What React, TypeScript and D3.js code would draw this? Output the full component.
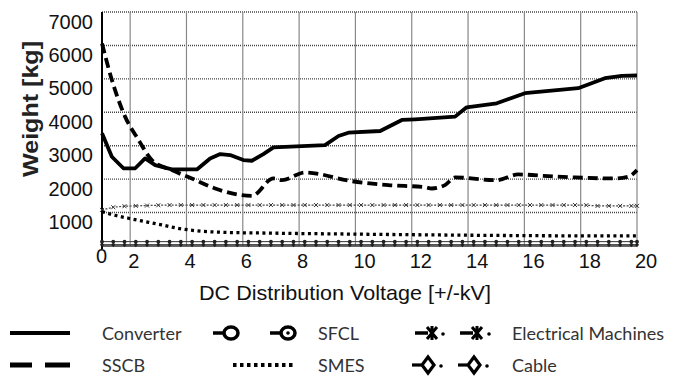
import * as d3 from "d3";

// x positions (kV) for the marker series
const volts = [
  1.0, 1.4, 1.8, 2.2, 2.6, 3.0, 3.4, 3.8, 4.2, 4.6, 5.0, 5.4, 5.8, 6.2, 6.6,
  7.0, 7.4, 7.8, 8.2, 8.6, 9.0, 9.4, 9.8, 10.2, 10.6, 11.0, 11.4, 11.8, 12.2,
  12.6, 13.0, 13.4, 13.8, 14.2, 14.6, 15.0, 15.4, 15.8, 16.2, 16.6, 17.0, 17.4,
  17.8, 18.2, 18.6, 19.0, 19.4, 19.8, 20.0,
];

const emWeight = [
  1080, 1160, 1190, 1200, 1210, 1220, 1225, 1225, 1225, 1225, 1225, 1225, 1225,
  1225, 1225, 1225, 1225, 1225, 1225, 1225, 1225, 1225, 1225, 1225, 1225, 1225,
  1225, 1225, 1225, 1225, 1225, 1225, 1225, 1225, 1225, 1225, 1225, 1225, 1225,
  1225, 1225, 1225, 1225, 1220, 1200, 1200, 1200, 1200, 1200,
];

const sfclWeight = [
  130, 130, 130, 130, 130, 130, 130, 130, 130, 130, 130, 130, 130, 130, 130,
  130, 130, 130, 130, 130, 130, 130, 130, 130, 130, 130, 130, 130, 130, 130,
  130, 130, 130, 130, 130, 130, 130, 130, 130, 130, 130, 130, 130, 130, 130,
  130, 130, 130, 130,
];

const cableWeight = [
  40, 40, 40, 40, 40, 40, 40, 40, 40, 40, 40, 40, 40, 40, 40, 40, 40, 40, 40,
  40, 40, 40, 40, 40, 40, 40, 40, 40, 40, 40, 40, 40, 40, 40, 40, 40, 40, 40,
  40, 40, 40, 40, 40, 40, 40, 40, 40, 40, 40,
];

const converterV = [
  1.0, 1.35, 1.76, 2.18, 2.53, 2.89, 3.48, 4.37, 4.84, 5.2, 5.55, 6.02, 6.32,
  6.73, 7.09, 8.92, 9.4, 9.75, 10.88, 11.65, 12.12, 13.54, 13.95, 15.02, 16.02,
  17.91, 18.86, 19.46, 20.0,
];
const converterW = [
  3370, 2670, 2325, 2325, 2620, 2420, 2290, 2290, 2620, 2750, 2720, 2570, 2550,
  2750, 2950, 3020, 3290, 3390, 3440, 3770, 3790, 3870, 4150, 4270, 4570, 4720,
  5020, 5090, 5100,
];

const sscbV = [
  1.0, 1.35, 1.82, 2.3, 2.77, 3.48, 4.19, 5.02, 5.31, 6.32, 7.09, 7.39, 8.21,
  9.87, 11.17, 12.47, 12.71, 13.18, 13.54, 15.02, 15.78, 16.85, 17.8, 19.22,
  19.69, 20.0,
];
const sscbW = [
  6060, 4970, 3870, 3170, 2570, 2270, 2020, 1720, 1640, 1500, 2020, 1970, 2200,
  1940, 1820, 1760, 1720, 1820, 2050, 1970, 2140, 2090, 2050, 2020, 2070, 2270,
];

const smesV = [1.0, 1.4, 1.94, 2.53, 3.12, 3.7, 4.3, 5.26, 7.0, 10.0, 13.0, 16.0, 20.0];
const smesW = [1030, 930, 830, 730, 630, 530, 460, 410, 385, 355, 330, 310, 300];

const xTicks = [0, 2, 4, 6, 8, 10, 12, 14, 16, 18, 20];
const yTicks = [0, 1000, 2000, 3000, 4000, 5000, 6000, 7000];

const W = 689;
const H = 385;

export default function App() {
  const x = d3.scaleLinear().domain([1, 20]).range([102, 637]).clamp(true);
  const y = d3.scaleLinear().domain([0, 7000]).range([246, 12]);

  const pairs = (xs: number[], ys: number[]) =>
    xs.map((v, i) => [v, ys[i]] as [number, number]);

  const smooth = d3
    .line<[number, number]>()
    .x((d) => x(d[0]))
    .y((d) => y(d[1]))
    .curve(d3.curveMonotoneX);

  const straight = d3
    .line<[number, number]>()
    .x((d) => x(d[0]))
    .y((d) => y(d[1]));

  const tickFont = "'Liberation Sans', Arial, sans-serif";
  const legFont = "Lato";

  return (
    <svg
      width={W}
      height={H}
      style={{ position: "fixed", left: 0, top: 0, background: "#fff" }}
    >
      {/* horizontal grid (dotted) */}
      {yTicks.slice(1).map((t) => (
        <line
          key={"h" + t}
          x1={x.range()[0]}
          x2={x.range()[1]}
          y1={y(t)}
          y2={y(t)}
          stroke="#444"
          strokeWidth={1.4}
          strokeDasharray="1 1"
        />
      ))}
      {/* vertical grid */}
      {xTicks.slice(1).map((t) => (
        <line
          key={"v" + t}
          x1={x(t)}
          x2={x(t)}
          y1={y(7000)}
          y2={y(0)}
          stroke="#888"
          strokeWidth={1.2}
        />
      ))}
      {/* axes */}
      <line x1={x(1)} x2={x(20)} y1={y(0)} y2={y(0)} stroke="#333" strokeWidth={1.5} />
      <line x1={x(1)} x2={x(1)} y1={y(7000)} y2={y(0) + 3} stroke="#000" strokeWidth={2} />

      {/* y tick labels */}
      {yTicks.slice(1).map((t) => (
        <text
          key={"yl" + t}
          x={93}
          y={y(t) + 16.5}
          textAnchor="end"
          fontFamily={tickFont}
          fontSize={20}
          fill="#111"
        >
          {t}
        </text>
      ))}
      {/* x tick labels */}
      {xTicks.map((t) => (
        <text
          key={"xl" + t}
          x={t === 0 ? x(t) - 6 : x(t) - 2}
          y={t === 0 ? 263 : 268}
          textAnchor="start"
          fontFamily={tickFont}
          fontSize={20}
          fill="#111"
        >
          {t}
        </text>
      ))}

      <text
        x={345}
        y={300}
        textAnchor="middle"
        fontFamily={tickFont}
        fontSize={21}
        textLength={292}
        lengthAdjust="spacingAndGlyphs"
        fill="#111"
      >
        DC Distribution Voltage [+/-kV]
      </text>
      <text
        transform="translate(38,109) rotate(-90)"
        textAnchor="middle"
        fontFamily={tickFont}
        fontSize={22}
        fontWeight="bold"
        textLength={136}
        lengthAdjust="spacingAndGlyphs"
        fill="#222"
      >
        Weight [kg]
      </text>

      {/* cable */}
      <path d={straight(pairs(volts, cableWeight)) || ""} fill="none" stroke="#333" strokeWidth={1} />
      {volts.map((v, i) => {
        const cx = x(v);
        const cy = y(cableWeight[i]);
        return (
          <path
            key={"cb" + i}
            d={`M${cx},${cy - 2.5}L${cx + 2},${cy}L${cx},${cy + 2.5}L${cx - 2},${cy}Z`}
            fill="#222"
          />
        );
      })}
      {/* SFCL */}
      <path d={straight(pairs(volts, sfclWeight)) || ""} fill="none" stroke="#333" strokeWidth={1} />
      {volts.map((v, i) => (
        <circle key={"sf" + i} cx={x(v)} cy={y(sfclWeight[i])} r={1.9} fill="#222" />
      ))}
      {/* electrical machines */}
      <path
        d={straight(pairs(volts, emWeight)) || ""}
        fill="none"
        stroke="#444"
        strokeWidth={1.2}
        strokeDasharray="2 1.5"
      />
      {volts.map((v, i) => {
        const cx = x(v);
        const cy = y(emWeight[i]);
        return (
          <path
            key={"em" + i}
            d={`M${cx - 2},${cy - 2}L${cx + 2},${cy + 2}M${cx - 2},${cy + 2}L${cx + 2},${cy - 2}`}
            stroke="#333"
            strokeWidth={1}
          />
        );
      })}
      {/* SMES */}
      <path
        d={smooth(pairs(smesV, smesW)) || ""}
        fill="none"
        stroke="#000"
        strokeWidth={3.3}
        strokeDasharray="3 3.5"
      />
      {/* SSCB */}
      <path
        d={smooth(pairs(sscbV, sscbW)) || ""}
        fill="none"
        stroke="#000"
        strokeWidth={3.8}
        strokeDasharray="10 5"
      />
      {/* converter */}
      <path
        d={straight(pairs(converterV, converterW)) || ""}
        fill="none"
        stroke="#000"
        strokeWidth={3.8}
        strokeLinejoin="round"
      />

      {/* legend */}
      <g fontFamily={legFont} fontSize={18} fill="#333">
        <line x1={10} x2={70} y1={333} y2={333} stroke="#000" strokeWidth={4} />
        <text x={102} y={340}>Converter</text>
        <line x1={10} x2={32} y1={365} y2={365} stroke="#000" strokeWidth={5} />
        <line x1={45} x2={70} y1={365} y2={365} stroke="#000" strokeWidth={5} />
        <text x={102} y={372}>SSCB</text>

        <g stroke="#000" strokeWidth={3.5} fill="none">
          <line x1={213} x2={224} y1={333} y2={333} />
          <ellipse cx={231} cy={333} rx={7} ry={6} />
          <line x1={270} x2={281} y1={333} y2={333} />
          <ellipse cx={288} cy={333} rx={7} ry={6} />
        </g>
        <circle cx={288} cy={333} r={1.8} fill="#000" />
        <text x={318} y={340}>SFCL</text>
        <line
          x1={233}
          x2={294}
          y1={365}
          y2={365}
          stroke="#000"
          strokeWidth={4}
          strokeDasharray="3.5 3.5"
        />
        <text x={318} y={372}>SMES</text>

        <g stroke="#000" strokeWidth={3.5} fill="none">
          <line x1={415} x2={428} y1={333} y2={333} />
          <path d="M427,327L437,339M427,339L437,327M432,326L432,340" strokeWidth={3} />
          <line x1={460} x2={473} y1={333} y2={333} />
          <path d="M472,327L482,339M472,339L482,327M477,326L477,340" strokeWidth={3} />
        </g>
        <circle cx={443} cy={334} r={1.8} fill="#000" />
        <circle cx={489} cy={334} r={1.8} fill="#000" />
        <text x={512} y={340}>Electrical Machines</text>

        <g stroke="#000" strokeWidth={3.2} fill="none">
          <line x1={412} x2={421} y1={365} y2={365} />
          <path d="M428,357L434,365L428,373L422,365Z" />
          <line x1={458} x2={467} y1={365} y2={365} />
          <path d="M474,357L480,365L474,373L468,365Z" />
        </g>
        <circle cx={441} cy={366} r={1.8} fill="#000" />
        <circle cx={487} cy={366} r={1.8} fill="#000" />
        <text x={512} y={372}>Cable</text>
      </g>
    </svg>
  );
}
